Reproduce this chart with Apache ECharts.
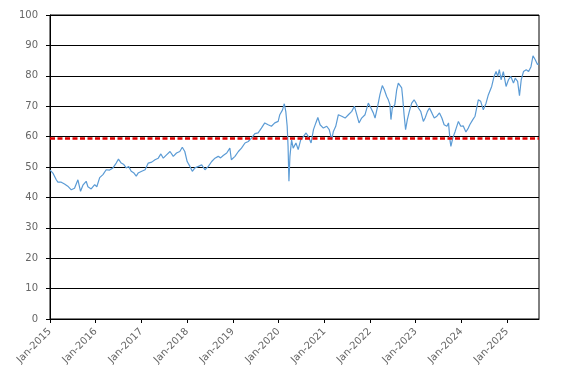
<!DOCTYPE html>
<html>
<head>
<meta charset="utf-8">
<script src="https://cdn.jsdelivr.net/npm/echarts@6/dist/echarts.min.js"></script>
<style>html,body{margin:0;padding:0;background:#fff;}#c{width:567px;height:382px;}</style>
</head>
<body>
<div id="c"></div>
<script>
var dates = ['2015-01-02','2015-01-24','2015-02-20','2015-03-05','2015-04-01','2015-04-27','2015-05-23','2015-06-20','2015-07-16','2015-08-12','2015-09-02','2015-09-21','2015-10-17','2015-10-31','2015-11-26','2015-12-24',
'2016-01-10','2016-02-02','2016-02-28','2016-03-25','2016-04-21','2016-05-18','2016-06-13','2016-07-01','2016-07-23','2016-08-13','2016-09-01','2016-09-20','2016-10-11','2016-11-02','2016-11-20','2016-12-05',
'2017-01-03','2017-01-30','2017-02-24','2017-03-24','2017-04-19','2017-05-15','2017-06-05','2017-06-24','2017-07-20','2017-08-17','2017-09-12','2017-10-08','2017-11-03','2017-11-23','2017-12-13',
'2018-01-01','2018-01-23','2018-02-11','2018-03-04','2018-04-01','2018-04-27','2018-05-23','2018-06-06','2018-06-19','2018-07-16','2018-08-11','2018-09-06','2018-09-25','2018-10-16','2018-11-13','2018-12-08','2018-12-20',
'2019-01-18','2019-02-14','2019-03-11','2019-04-08','2019-05-04','2019-05-30','2019-06-26','2019-07-22','2019-08-17','2019-09-13','2019-10-10','2019-11-05','2019-12-02','2019-12-29',
'2020-01-11','2020-02-02','2020-02-16','2020-02-28','2020-03-10','2020-03-17','2020-03-24','2020-04-01','2020-04-14','2020-04-27','2020-05-19','2020-06-06','2020-06-26','2020-07-17','2020-08-08','2020-08-26','2020-09-17','2020-10-06','2020-10-25','2020-11-10','2020-11-28','2020-12-24',
'2021-01-20','2021-02-09','2021-03-01','2021-03-14','2021-04-02','2021-04-23','2021-05-20','2021-06-16','2021-07-12','2021-08-08','2021-08-29','2021-09-17','2021-10-05','2021-10-26','2021-11-22','2021-12-18',
'2022-01-08','2022-01-27','2022-02-10','2022-03-03','2022-03-21','2022-04-09','2022-04-25','2022-05-14','2022-05-27','2022-06-09','2022-06-17','2022-06-28','2022-07-18','2022-08-02','2022-08-15','2022-08-28','2022-09-11','2022-09-19','2022-09-30','2022-10-12','2022-10-26','2022-11-11','2022-11-30','2022-12-19',
'2023-01-04','2023-01-22','2023-02-10','2023-03-03','2023-03-17','2023-04-05','2023-04-21','2023-05-10','2023-05-29','2023-06-19','2023-07-10','2023-07-29','2023-08-16','2023-09-07','2023-09-20','2023-10-03','2023-10-09','2023-10-24','2023-11-12','2023-12-08','2023-12-27',
'2024-01-16','2024-02-06','2024-02-25','2024-03-09','2024-03-31','2024-04-19','2024-05-15','2024-06-03','2024-06-24','2024-07-16','2024-08-03','2024-08-30','2024-09-18','2024-10-04','2024-10-17','2024-10-30','2024-11-13','2024-12-01','2024-12-23',
'2025-01-11','2025-01-30','2025-02-20','2025-03-06','2025-03-25','2025-04-09','2025-04-23','2025-05-11','2025-06-02','2025-06-21','2025-07-10','2025-07-26','2025-08-13','2025-08-31','2025-09-12'];

var values = [49.0,48.0,45.8,45.0,45.0,44.4,43.7,42.5,43.0,45.8,42.0,44.0,45.3,43.5,42.8,44.2,
43.5,46.5,47.5,49.1,49.0,49.7,51.3,52.6,51.3,50.8,49.7,50.2,48.6,48.0,47.0,48.0,
48.6,49.1,51.3,51.6,52.4,52.9,54.3,52.9,54.0,55.1,53.5,54.6,55.1,56.5,55.1,
51.8,50.2,48.6,49.7,50.2,50.7,49.1,48.6,50.2,51.8,52.9,53.5,53.0,53.8,54.6,56.2,52.4,
53.5,55.1,56.2,57.9,58.4,59.5,61.0,61.2,62.8,64.5,63.9,63.4,64.5,65.0,
67.2,68.8,70.8,68.2,63.4,56.8,45.3,53.5,58.9,56.2,57.9,55.7,58.9,60.0,61.2,60.0,57.9,62.3,64.5,66.3,63.9,62.8,
63.4,62.3,59.0,61.7,63.4,67.2,66.7,66.1,67.2,68.3,70.0,67.2,64.5,66.1,67.2,71.0,
69.4,67.8,66.1,70.0,73.8,76.8,75.4,73.2,72.1,70.5,65.6,69.4,70.5,75.4,77.6,77.1,76.0,72.7,67.2,62.3,65.6,68.3,71.0,72.1,
71.0,69.4,68.3,65.0,66.1,68.3,69.4,67.8,66.1,66.7,67.8,66.1,63.9,63.4,64.5,58.4,56.8,59.5,61.7,65.0,63.4,
63.5,61.5,62.8,64.0,65.5,66.7,72.1,71.6,68.8,71.0,73.7,76.5,79.8,81.4,79.8,82.0,78.7,81.4,76.5,
78.7,79.8,77.6,79.2,78.2,73.5,78.7,81.4,82.0,81.4,83.0,86.6,85.3,83.7,84.0];

var tickYears = [2015,2016,2017,2018,2019,2020,2021,2022,2023,2024,2025];
var referenceLevel = 59.6;
var xStart = '2015-01-01';
var xEnd = '2025-09-12';

function ts(s) { var p = s.split('-'); return Date.UTC(+p[0], +p[1] - 1, +p[2]); }
var seriesData = dates.map(function (d, i) { return [ts(d), values[i]]; });
var tickValues = tickYears.map(function (y) { return Date.UTC(y, 0, 1); });

var chart = echarts.init(document.getElementById('c'));
chart.setOption({
  animation: false,
  backgroundColor: '#fff',
  textStyle: { fontFamily: 'DejaVu Sans' },
  grid: { left: 50, right: 28, top: 15, bottom: 63, show: true, borderColor: '#000', borderWidth: 1, backgroundColor: 'transparent' },
  xAxis: {
    type: 'value',
    min: ts(xStart),
    max: ts(xEnd),
    splitLine: { show: false },
    axisLine: { lineStyle: { color: '#000', width: 1 } },
    axisTick: { show: true, length: 4, lineStyle: { color: '#000' }, customValues: tickValues },
    axisLabel: {
      customValues: tickValues,
      rotate: 45,
      margin: 11,
      color: '#666666',
      fontSize: 10,
      fontFamily: 'DejaVu Sans',
      formatter: function (v) { return 'Jan-' + new Date(v).getUTCFullYear(); }
    }
  },
  yAxis: {
    type: 'value',
    min: 0,
    max: 100,
    interval: 10,
    axisLine: { show: true, lineStyle: { color: '#000', width: 1 } },
    axisTick: { show: true, length: 4, lineStyle: { color: '#000' } },
    splitLine: { show: true, lineStyle: { color: '#000', width: 1 } },
    axisLabel: { color: '#666666', fontSize: 10, margin: 12, fontFamily: 'DejaVu Sans' }
  },
  series: [{
    type: 'line',
    data: seriesData,
    showSymbol: false,
    symbol: 'none',
    lineStyle: { color: '#5b9bd5', width: 1.2 },
    itemStyle: { color: '#5b9bd5' },
    markLine: {
      silent: true,
      symbol: ['none', 'none'],
      label: { show: false },
      lineStyle: { color: '#e00000', width: 2.5, type: [5, 2.5] },
      data: [{ yAxis: referenceLevel }]
    }
  }]
});
</script>
</body>
</html>
